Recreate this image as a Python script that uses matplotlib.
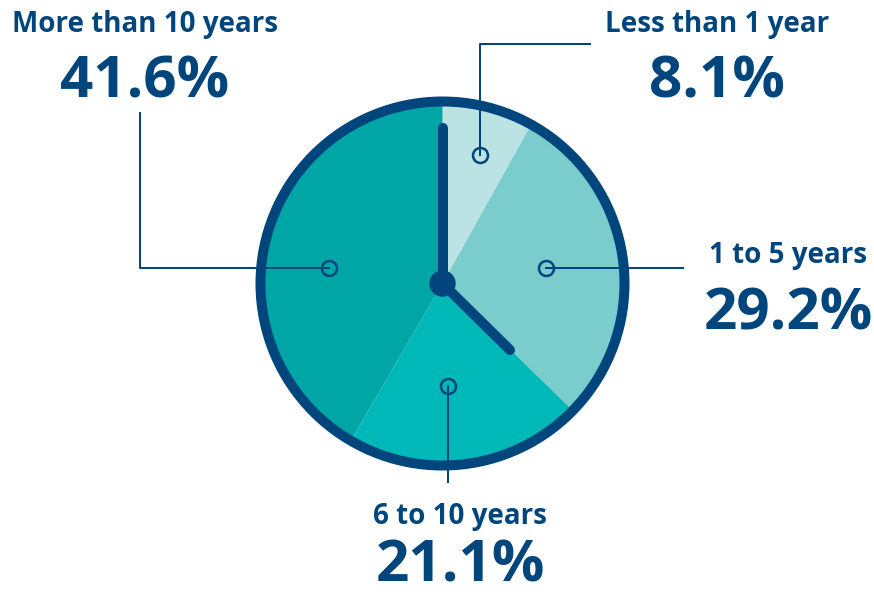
import matplotlib.pyplot as plt
from matplotlib.patches import Circle

# data
categories = ['Less than 1 year', '1 to 5 years', '6 to 10 years', 'More than 10 years']
shares = [8.1, 29.2, 21.1, 41.6]
slice_colors = ['#bce3e3', '#7acccd', '#00b8b7', '#00a6a6']

NAVY = '#00457c'
W, H = 874, 596
PX = 0.72  # points per pixel at dpi 100

plt.rcParams['font.family'] = ['Open Sans', 'DejaVu Sans']


def py(y):
    # picture rows -> data y
    return H - y


fig = plt.figure(figsize=(W / 100, H / 100), dpi=100)
ax = fig.add_axes([0, 0, 1, 1])

cx, cy = 442.5, py(283.5)
ax.pie(shares, colors=slice_colors, startangle=90, counterclock=False,
       center=(cx, cy), radius=182, wedgeprops=dict(linewidth=0))
ax.set_xlim(0, W)
ax.set_ylim(0, H)
ax.set_aspect('equal')
ax.axis('off')

# clock rim
ax.add_patch(Circle((cx, cy), 182, fill=False, ec=NAVY, lw=10 * PX, zorder=3))

# hands
ax.plot([cx, cx], [cy, py(128)], color=NAVY, lw=10 * PX,
        solid_capstyle='round', zorder=4)
ax.plot([cx, 510], [cy, py(350)], color=NAVY, lw=10 * PX,
        solid_capstyle='round', zorder=4)
ax.add_patch(Circle((cx, cy), 12.5, color=NAVY, zorder=5))

# leader paths (picture coords), label anchor x, label baseline, percent baseline
leaders = [
    [(480, 155), (480, 44), (590, 44)],
    [(546, 268), (683, 268)],
    [(448, 386), (448, 482)],
    [(329, 268), (140, 268), (140, 113)],
]
label_x = [717, 788, 460, 145]
label_base = [32, 263, 524, 32]
pct_base = [97, 330, 582, 97]

for cat, val, path, lx, lb, pb in zip(categories, shares, leaders,
                                      label_x, label_base, pct_base):
    xs = [p[0] for p in path]
    ys = [py(p[1]) for p in path]
    ax.plot(xs, ys, color=NAVY, lw=2 * PX, zorder=6)
    ax.plot(xs[0], ys[0], marker='o', ms=15 * PX, mfc='none',
            mec=NAVY, mew=2.5 * PX, zorder=7)
    ax.text(lx, py(lb), cat, ha='center', va='baseline',
            fontsize=20, fontweight='bold', color=NAVY)
    ax.text(lx, py(pb), f'{val:.1f}%', ha='center', va='baseline',
            fontsize=42, fontweight='bold', color=NAVY)

fig.savefig('out.png', dpi=100)
